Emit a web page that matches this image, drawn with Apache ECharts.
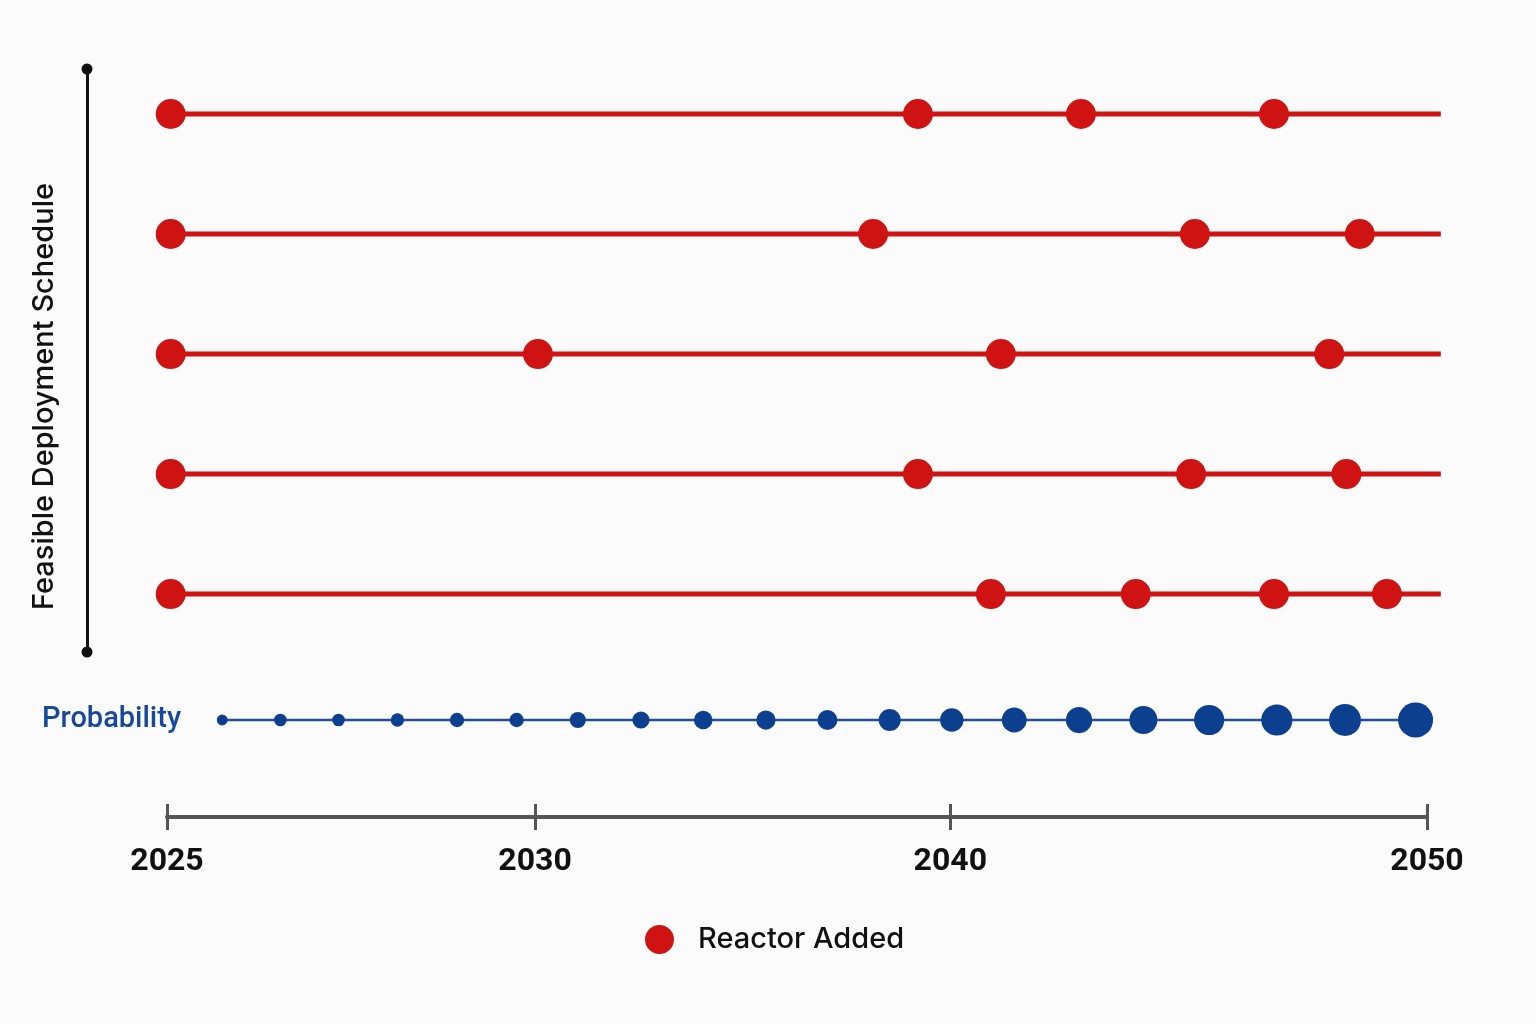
<!DOCTYPE html>
<html>
<head>
<meta charset="utf-8">
<script src="https://cdn.jsdelivr.net/npm/echarts@6/dist/echarts.min.js"></script>
<style>
html,body{margin:0;padding:0;background:#fbfbfb;}
#chart{width:1536px;height:1024px;}
</style>
</head>
<body>
<div id="chart"></div>
<script>
// ---- Data (years) ----
const tickYears = [2025, 2030, 2040, 2050];
// The time axis in the picture is uneven: share of axis length at which each tick year sits
const tickStops = [0, 29.21, 62.17, 100];

const scheduleRows = [5, 4, 3, 2, 1];
const scheduleStart = 2025.05;
const scheduleEnd = 2050.29;
const schedule1 = [2025.05, 2039.22, 2042.74, 2046.79];
const schedule2 = [2025.05, 2038.14, 2045.13, 2048.59];
const schedule3 = [2025.05, 2030.07, 2041.06, 2047.95];
const schedule4 = [2025.05, 2039.22, 2045.05, 2048.31];
const schedule5 = [2025.05, 2040.85, 2043.89, 2046.79, 2049.16];
const schedules = [schedule1, schedule2, schedule3, schedule4, schedule5];

const probYears = [2025.75, 2026.54, 2027.33, 2028.13, 2028.94, 2029.75, 2031.03, 2032.55, 2034.05, 2035.56,
                   2037.04, 2038.54, 2040.03, 2041.34, 2042.70, 2044.05, 2045.43, 2046.85, 2048.28, 2049.76];
const probValues = [0.31, 0.36, 0.36, 0.38, 0.41, 0.41, 0.46, 0.49, 0.53, 0.55,
                    0.57, 0.63, 0.67, 0.71, 0.75, 0.80, 0.86, 0.89, 0.91, 1.00];

// ---- Scale helpers ----
function toPos(year) {
  let i = 0;
  while (i < tickYears.length - 2 && year > tickYears[i + 1]) i++;
  const y0 = tickYears[i], y1 = tickYears[i + 1];
  const p0 = tickStops[i], p1 = tickStops[i + 1];
  return p0 + (year - y0) / (y1 - y0) * (p1 - p0);
}
function labelFor(pos) {
  let best = 0, d = Infinity;
  tickStops.forEach((s, i) => { if (Math.abs(s - pos) < d) { d = Math.abs(s - pos); best = i; } });
  return String(tickYears[best]);
}

// layout: both grids share the same px-per-unit; the schedule grid runs a bit past 2050
const GRID_LEFT = 167, AXIS_WIDTH = 1260, W = 1536;
const schedMax = toPos(scheduleEnd);
const schedRight = W - GRID_LEFT - AXIS_WIDTH * schedMax / 100;

const RED = '#cf1212';
const series = [];
scheduleRows.forEach((row) => {
  series.push({
    type: 'line', xAxisIndex: 0, yAxisIndex: 0, clip: false, silent: true,
    showSymbol: false, symbol: 'none',
    lineStyle: { color: RED, width: 5, cap: 'butt' },
    data: [[toPos(scheduleStart), row], [toPos(scheduleEnd), row]]
  });
});
const reactorPoints = [];
schedules.forEach((s, i) => s.forEach(y => reactorPoints.push([toPos(y), scheduleRows[i]])));
series.push({
  name: 'Reactor Added', type: 'scatter', xAxisIndex: 0, yAxisIndex: 0, clip: false,
  symbol: 'circle', symbolSize: 30, itemStyle: { color: RED, opacity: 1 },
  data: reactorPoints
});
series.push({
  name: 'Probability', type: 'line', xAxisIndex: 1, yAxisIndex: 1, clip: false,
  symbol: 'circle', showSymbol: true, showAllSymbol: true,
  symbolSize: v => v[2] * 35,
  lineStyle: { color: '#1f4ea3', width: 2.5 },
  itemStyle: { color: '#0d3f8f' },
  data: probYears.map((y, i) => [toPos(y), 'Probability', probValues[i]])
});

const tickCommon = { color: '#555', width: 3 };
const option = {
  backgroundColor: '#fbfbfb',
  animation: false,
  textStyle: { fontFamily: 'Roboto, "Noto Sans", sans-serif' },
  legend: {
    data: [{ name: 'Reactor Added', icon: 'circle' }],
    left: 640, top: 920,
    itemWidth: 29, itemHeight: 29, itemGap: 20,
    textStyle: { fontSize: 29, fontFamily: 'Inter', color: '#111', fontWeight: 500, padding: [0, 0, 0, 19] }
  },
  grid: [
    { left: GRID_LEFT, right: schedRight, top: 69, bottom: 372 },
    { left: GRID_LEFT, right: W - GRID_LEFT - AXIS_WIDTH, top: 623, bottom: 207 }
  ],
  xAxis: [
    { gridIndex: 0, type: 'value', min: 0, max: schedMax, show: false },
    {
      gridIndex: 1, type: 'value', min: 0, max: 100, position: 'bottom',
      axisLine: { show: true, lineStyle: { color: '#555', width: 4 } },
      axisTick: { show: true, length: 13, lineStyle: tickCommon, customValues: tickStops },
      axisLabel: { customValues: tickStops, formatter: v => labelFor(v), fontSize: 32, fontWeight: 'bold', color: '#111', margin: 29 },
      splitLine: { show: false }
    },
    {
      gridIndex: 1, type: 'value', min: 0, max: 100, position: 'bottom',
      axisLine: { show: false },
      axisTick: { show: true, inside: true, length: 13, lineStyle: tickCommon, customValues: tickStops },
      axisLabel: { show: false },
      splitLine: { show: false }
    }
  ],
  yAxis: [
    {
      gridIndex: 0, type: 'value', min: 0.517, max: 5.375, offset: 80,
      axisLine: { show: true, onZero: false, lineStyle: { color: '#111', width: 3 }, symbol: ['circle', 'circle'], symbolSize: [11, 11] },
      axisTick: { show: false }, axisLabel: { show: false }, splitLine: { show: false },
      name: 'Feasible Deployment Schedule', nameLocation: 'middle', nameRotate: 90, nameGap: 28,
      nameTextStyle: { fontSize: 29, fontFamily: 'Inter', color: '#111', fontWeight: 500, padding: [0, 72, 0, 0] }
    },
    {
      gridIndex: 1, type: 'category', data: ['Probability'],
      axisLine: { show: false }, axisTick: { show: false }, splitLine: { show: false },
      axisLabel: { align: 'left', margin: 125, fontSize: 29, color: '#16489c', fontWeight: 500 }
    }
  ],
  series: series
};
const chart = echarts.init(document.getElementById('chart'));
chart.setOption(option);
</script>
</body>
</html>
